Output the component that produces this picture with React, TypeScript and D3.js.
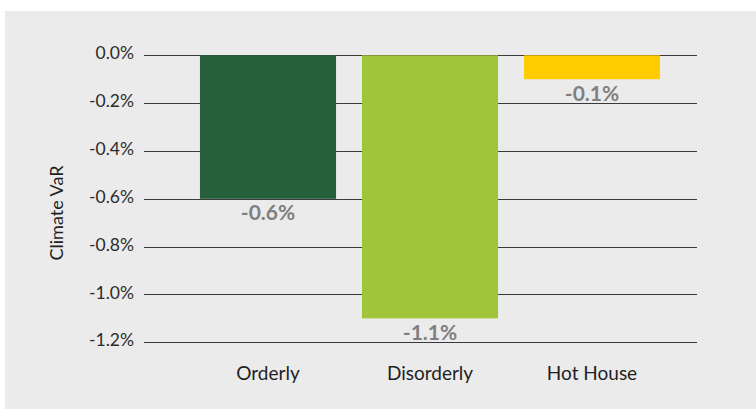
import { useEffect, useRef } from 'react';
import * as d3 from 'd3';

const scenarios = ['Orderly', 'Disorderly', 'Hot House'];
const climateVar = [-0.6, -1.1, -0.1];
const barColors = ['#26603c', '#a1c53a', '#ffcc00'];
const yTicks = [0, -0.2, -0.4, -0.6, -0.8, -1.0, -1.2];

const pct = (v: number) => d3.format('.1f')(v).replace('\u2212', '-') + '%';

const App = () => {
  const svgRef = useRef<SVGSVGElement>(null);

  useEffect(() => {
    const W = 756;
    const H = 409;
    const svg = d3.select(svgRef.current).attr('width', W).attr('height', H);
    svg.selectAll('*').remove();

    // fondo
    svg.append('rect')
      .attr('x', 5).attr('y', 11)
      .attr('width', W - 5).attr('height', H - 11)
      .attr('fill', '#ebebeb');

    const y = d3.scaleLinear().domain([-1.2, 0]).range([342.3, 55.3]);
    const x = d3.scaleBand<string>()
      .domain(scenarios)
      .range([187, 673])
      .paddingInner(0.16)
      .paddingOuter(0.08);

    const gridLeft = 144;
    const gridRight = 697;
    const font = 'Lato, "Open Sans", sans-serif';

    // lineas de rejilla y etiquetas
    const grid = svg.append('g');
    grid.selectAll('line')
      .data(yTicks)
      .enter().append('line')
      .attr('x1', gridLeft)
      .attr('x2', gridRight)
      .attr('y1', d => Math.round(y(d)) + 0.5)
      .attr('y2', d => Math.round(y(d)) + 0.5)
      .attr('stroke', '#3a3a3a')
      .attr('stroke-width', 1);

    grid.selectAll('text')
      .data(yTicks)
      .enter().append('text')
      .attr('x', 134)
      .attr('y', d => y(d) - 2)
      .attr('dy', '0.35em')
      .attr('text-anchor', 'end')
      .style('font-family', font)
      .style('font-size', '17.5px')
      .style('fill', '#2b2b2b')
      .text(d => pct(d));

    // barras
    const data = scenarios.map((s, i) => ({ s, v: climateVar[i], c: barColors[i] }));
    svg.append('g').selectAll('rect')
      .data(data)
      .enter().append('rect')
      .attr('x', d => x(d.s)!)
      .attr('width', x.bandwidth())
      .attr('y', y(0))
      .attr('height', d => y(d.v) - y(0))
      .attr('fill', d => d.c);

    // valores
    svg.append('g').selectAll('text')
      .data(data)
      .enter().append('text')
      .attr('x', d => x(d.s)! + x.bandwidth() / 2)
      .attr('y', d => y(d.v) + 14)
      .attr('dy', '0.35em')
      .attr('text-anchor', 'middle')
      .style('font-family', font)
      .style('font-size', '21px')
      .style('font-weight', 'bold')
      .style('fill', '#7f7f7f')
      .text(d => pct(d.v));

    // categorias
    svg.append('g').selectAll('text')
      .data(scenarios)
      .enter().append('text')
      .attr('x', d => x(d)! + x.bandwidth() / 2)
      .attr('y', 373.4)
      .attr('dy', '0.35em')
      .attr('text-anchor', 'middle')
      .style('font-family', font)
      .style('font-size', '19px')
      .style('fill', '#1f1f1f')
      .text(d => d);

    // titulo eje y
    svg.append('text')
      .attr('transform', `translate(63,${213}) rotate(-90)`)
      .attr('text-anchor', 'middle')
      .style('font-family', font)
      .style('font-size', '18px')
      .style('fill', '#1f1f1f')
      .text('Climate VaR');
  }, []);

  return (
    <svg ref={svgRef} style={{ position: 'absolute', left: 0, top: 0 }}></svg>
  );
};

export default App;
